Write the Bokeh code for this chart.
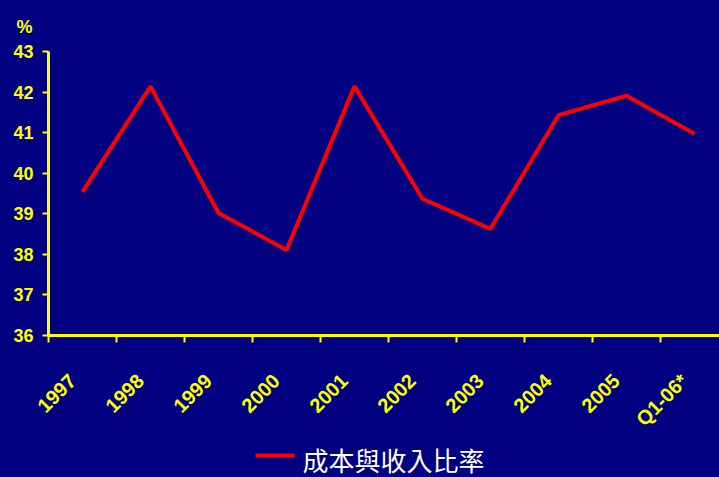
from bokeh.plotting import figure
from bokeh.layouts import column
from bokeh.models import Range1d, FixedTicker, LinearAxis, ColumnDataSource
from bokeh.core.properties import value
from bokeh.embed import file_html
from bokeh.resources import INLINE
import math

categories = ["1997", "1998", "1999", "2000", "2001", "2002", "2003", "2004", "2005", "Q1-06*"]
ratio = [39.54, 42.14, 39.02, 38.11, 42.14, 39.37, 38.63, 41.43, 41.91, 40.97]
y_ticks = [36, 37, 38, 39, 40, 41, 42, 43]
series_name = "成本與收入比率"

BG = "#000080"
YEL = "#FFFF00"
RED = "#FF0000"

xs = [i + 0.5 for i in range(len(categories))]
src = ColumnDataSource(dict(x=xs, y=ratio, cat=categories))

p = figure(width=719, height=440, output_backend="svg", toolbar_location=None,
           x_range=Range1d(0, 9.868), y_range=Range1d(36, 43),
           min_border_left=48, min_border_right=0, min_border_top=50, min_border_bottom=105)
p.background_fill_color = BG
p.border_fill_color = BG
p.outline_line_color = BG
p.grid.visible = False

p.title.text = "%"
p.title.align = "left"
p.title.offset = -32
p.title.standoff = 29
p.title.text_color = YEL
p.title.text_font = "Liberation Sans"
p.title.text_font_style = "bold"
p.title.text_font_size = "18px"

r = p.line("x", "y", source=src, line_color=RED, line_width=4)

# y axis
ya = p.yaxis[0]
ya.ticker = FixedTicker(ticks=y_ticks)
ya.axis_line_color = YEL
ya.axis_line_width = 3
ya.major_tick_line_color = YEL
ya.major_tick_line_width = 2
ya.major_tick_in = 0
ya.major_tick_out = 6
ya.minor_tick_line_color = None
ya.major_label_text_color = YEL
ya.major_label_text_font = "Liberation Sans"
ya.major_label_text_font_style = "bold"
ya.major_label_text_font_size = "18px"
ya.major_label_standoff = 9

# x axis: boundary ticks
xa = p.xaxis[0]
xa.ticker = FixedTicker(ticks=list(range(len(categories))))
xa.axis_line_color = YEL
xa.axis_line_width = 3
xa.major_tick_line_color = YEL
xa.major_tick_line_width = 2
xa.major_tick_in = 0
xa.major_tick_out = 7
xa.minor_tick_line_color = None
xa.major_label_overrides = {i: "" for i in range(len(categories))}
xa.major_label_standoff = 0

# x axis: category labels (end of rotated text slightly left of category centre)
label_pos = [x - 0.15 for x in xs]
xl = LinearAxis(ticker=FixedTicker(ticks=label_pos),
                major_label_overrides={x: c for x, c in zip(label_pos, categories)})
xl.axis_line_color = None
xl.major_tick_line_color = None
xl.minor_tick_line_color = None
xl.major_label_orientation = math.pi / 4
xl.major_label_text_color = YEL
xl.major_label_text_font = "Liberation Sans"
xl.major_label_text_font_style = "bold"
xl.major_label_text_font_size = "20px"
xl.major_label_standoff = 29
p.add_layout(xl, "below")

# legend strip below the chart (coordinates = page pixels)
f2 = figure(width=719, height=37, output_backend="svg", toolbar_location=None,
            x_range=Range1d(48, 719), y_range=Range1d(477, 440),
            min_border_left=48, min_border_right=0, min_border_top=0, min_border_bottom=0)
f2.axis.visible = False
f2.grid.visible = False
f2.background_fill_color = BG
f2.border_fill_color = BG
f2.outline_line_color = BG
f2.segment(x0=[255], y0=[455], x1=[294], y1=[455], line_color=RED, line_width=4)
f2.text(x=[302], y=[459], text=[series_name], text_color="white",
        text_font=value("Noto Sans CJK TC"), text_font_size="26px",
        text_baseline="middle", text_align="left")

layout = column(p, f2, spacing=0, styles={"background-color": BG})
open("out.html", "w").write(file_html(layout, INLINE))
